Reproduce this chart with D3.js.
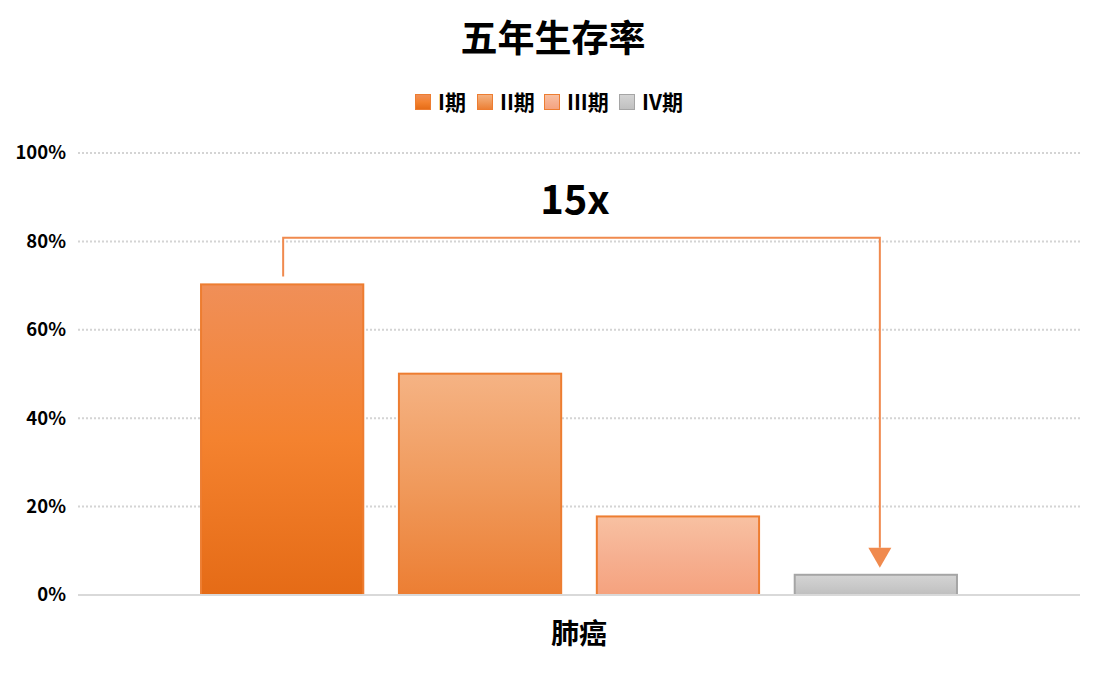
<!DOCTYPE html>
<html><head><meta charset="utf-8">
<script src="https://cdn.jsdelivr.net/npm/d3@7/dist/d3.min.js"></script>
<style>
html,body{margin:0;padding:0;background:#fff;}
svg{display:block;font-family:"Noto Sans CJK SC","Noto Sans",sans-serif;}
</style></head>
<body>
<svg id="chart" width="1104" height="674"></svg>
<script>
const categories = ["肺癌"];
const seriesNames = ["I期", "II期", "III期", "IV期"];
const values = [70.5, 50.3, 18, 4.8];
const yTicks = [0, 20, 40, 60, 80, 100];
const titleText = "五年生存率";
const ratioLabel = "15x";

const fillStops = [
  ["#f08f58", "#f4822f", "#e56b16"],
  ["#f5b384", "#f09a5c", "#ec7e33"],
  ["#f8c1a2", "#f6b091", "#f5a27e"],
  ["#d4d4d4", "#cacaca", "#bfbfbf"]
];
const strokes = ["#ed7d31", "#ed7d31", "#ed7d31", "#a5a5a5"];

const svg = d3.select("#chart");
const plotLeft = 78, plotRight = 1080, plotTop = 153, plotBottom = 595;

const y = d3.scaleLinear().domain([0, 100]).range([plotBottom, plotTop]);
const x0 = d3.scaleBand().domain(categories).range([plotLeft, plotRight]).paddingInner(0).paddingOuter(0.161);
const x1 = d3.scaleBand().domain(seriesNames).range([0, x0.bandwidth()]).paddingInner(0.17).paddingOuter(0);

const defs = svg.append("defs");
seriesNames.forEach((s, i) => {
  const g = defs.append("linearGradient").attr("id", "grad" + i)
    .attr("x1", 0).attr("y1", 0).attr("x2", 0).attr("y2", 1);
  g.append("stop").attr("offset", "0%").attr("stop-color", fillStops[i][0]);
  g.append("stop").attr("offset", "50%").attr("stop-color", fillStops[i][1]);
  g.append("stop").attr("offset", "100%").attr("stop-color", fillStops[i][2]);
});

// Title
svg.append("text").attr("x", 553).attr("y", 52).attr("text-anchor", "middle")
  .attr("font-size", 37).attr("font-weight", 700).attr("fill", "#000").text(titleText);

// Legend
const legendX = [415, 477, 544, 619];
const legend = svg.append("g");
seriesNames.forEach((s, i) => {
  const gi = legend.append("g").attr("transform", `translate(${legendX[i]},94)`);
  gi.append("rect").attr("x", 0.5).attr("y", 0.5).attr("width", 15).attr("height", 15)
    .attr("fill", `url(#grad${i})`).attr("stroke", strokes[i]).attr("stroke-width", 1);
  gi.append("text").attr("x", 23).attr("y", 16).attr("font-size", 21).attr("font-weight", 700)
    .attr("fill", "#000").text(s);
});

// Axis + grid
const yAxis = d3.axisLeft(y).tickValues(yTicks).tickFormat(d => d + "%").tickSize(0).tickPadding(12);
const ga = svg.append("g").attr("transform", `translate(${plotLeft},0)`).call(yAxis);
ga.select(".domain").remove();
ga.selectAll("text").attr("font-size", 18.5).attr("font-weight", 700).attr("fill", "#000")
  .attr("font-family", "'Noto Sans CJK SC','Noto Sans',sans-serif");
svg.append("g").selectAll("line").data(yTicks.filter(d => d > 0)).join("line")
  .attr("x1", plotLeft).attr("x2", plotRight).attr("y1", d => y(d)).attr("y2", d => y(d))
  .attr("stroke", "#d4d4d4").attr("stroke-width", 2).attr("stroke-dasharray", "2,2");

// Bars
const bars = svg.append("g");
categories.forEach(c => {
  bars.selectAll("rect.b").data(values).join("rect").attr("class", "b")
    .attr("x", (d, i) => x0(c) + x1(seriesNames[i]) + 1)
    .attr("width", x1.bandwidth() - 2)
    .attr("y", d => y(d) + 1)
    .attr("height", d => y(0) - y(d) - 1)
    .attr("fill", (d, i) => `url(#grad${i})`)
    .attr("stroke", (d, i) => strokes[i]).attr("stroke-width", 2);
});

// Baseline
svg.append("line").attr("x1", plotLeft).attr("x2", plotRight).attr("y1", y(0)).attr("y2", y(0))
  .attr("stroke", "#d9d9d9").attr("stroke-width", 2);

// X category label
svg.append("g").selectAll("text").data(categories).join("text")
  .attr("x", d => x0(d) + x0.bandwidth() / 2).attr("y", 644).attr("text-anchor", "middle")
  .attr("font-size", 28).attr("font-weight", 700).attr("fill", "#000").text(d => d);

// Bracket annotation
const cat = categories[0];
const xa = x0(cat) + x1(seriesNames[0]) + x1.bandwidth() / 2 + 1;
const xb = x0(cat) + x1(seriesNames[3]) + x1.bandwidth() / 2 + 4;
const yTopBracket = y(80.8);
const lineColor = "#f08a4e";
svg.append("path")
  .attr("d", `M${xa},${y(values[0]) - 7}V${yTopBracket}H${xb}V${y(values[3]) - 26}`)
  .attr("fill", "none").attr("stroke", lineColor).attr("stroke-width", 2);
const tipY = y(values[3]) - 6;
svg.append("path")
  .attr("d", `M${xb - 11.5},${tipY - 20}L${xb + 11.5},${tipY - 20}L${xb},${tipY}Z`)
  .attr("fill", lineColor);

svg.append("text").attr("x", 575).attr("y", 214).attr("text-anchor", "middle")
  .attr("font-size", 40).attr("font-weight", 700).attr("fill", "#000").text(ratioLabel);
</script>
</body></html>
